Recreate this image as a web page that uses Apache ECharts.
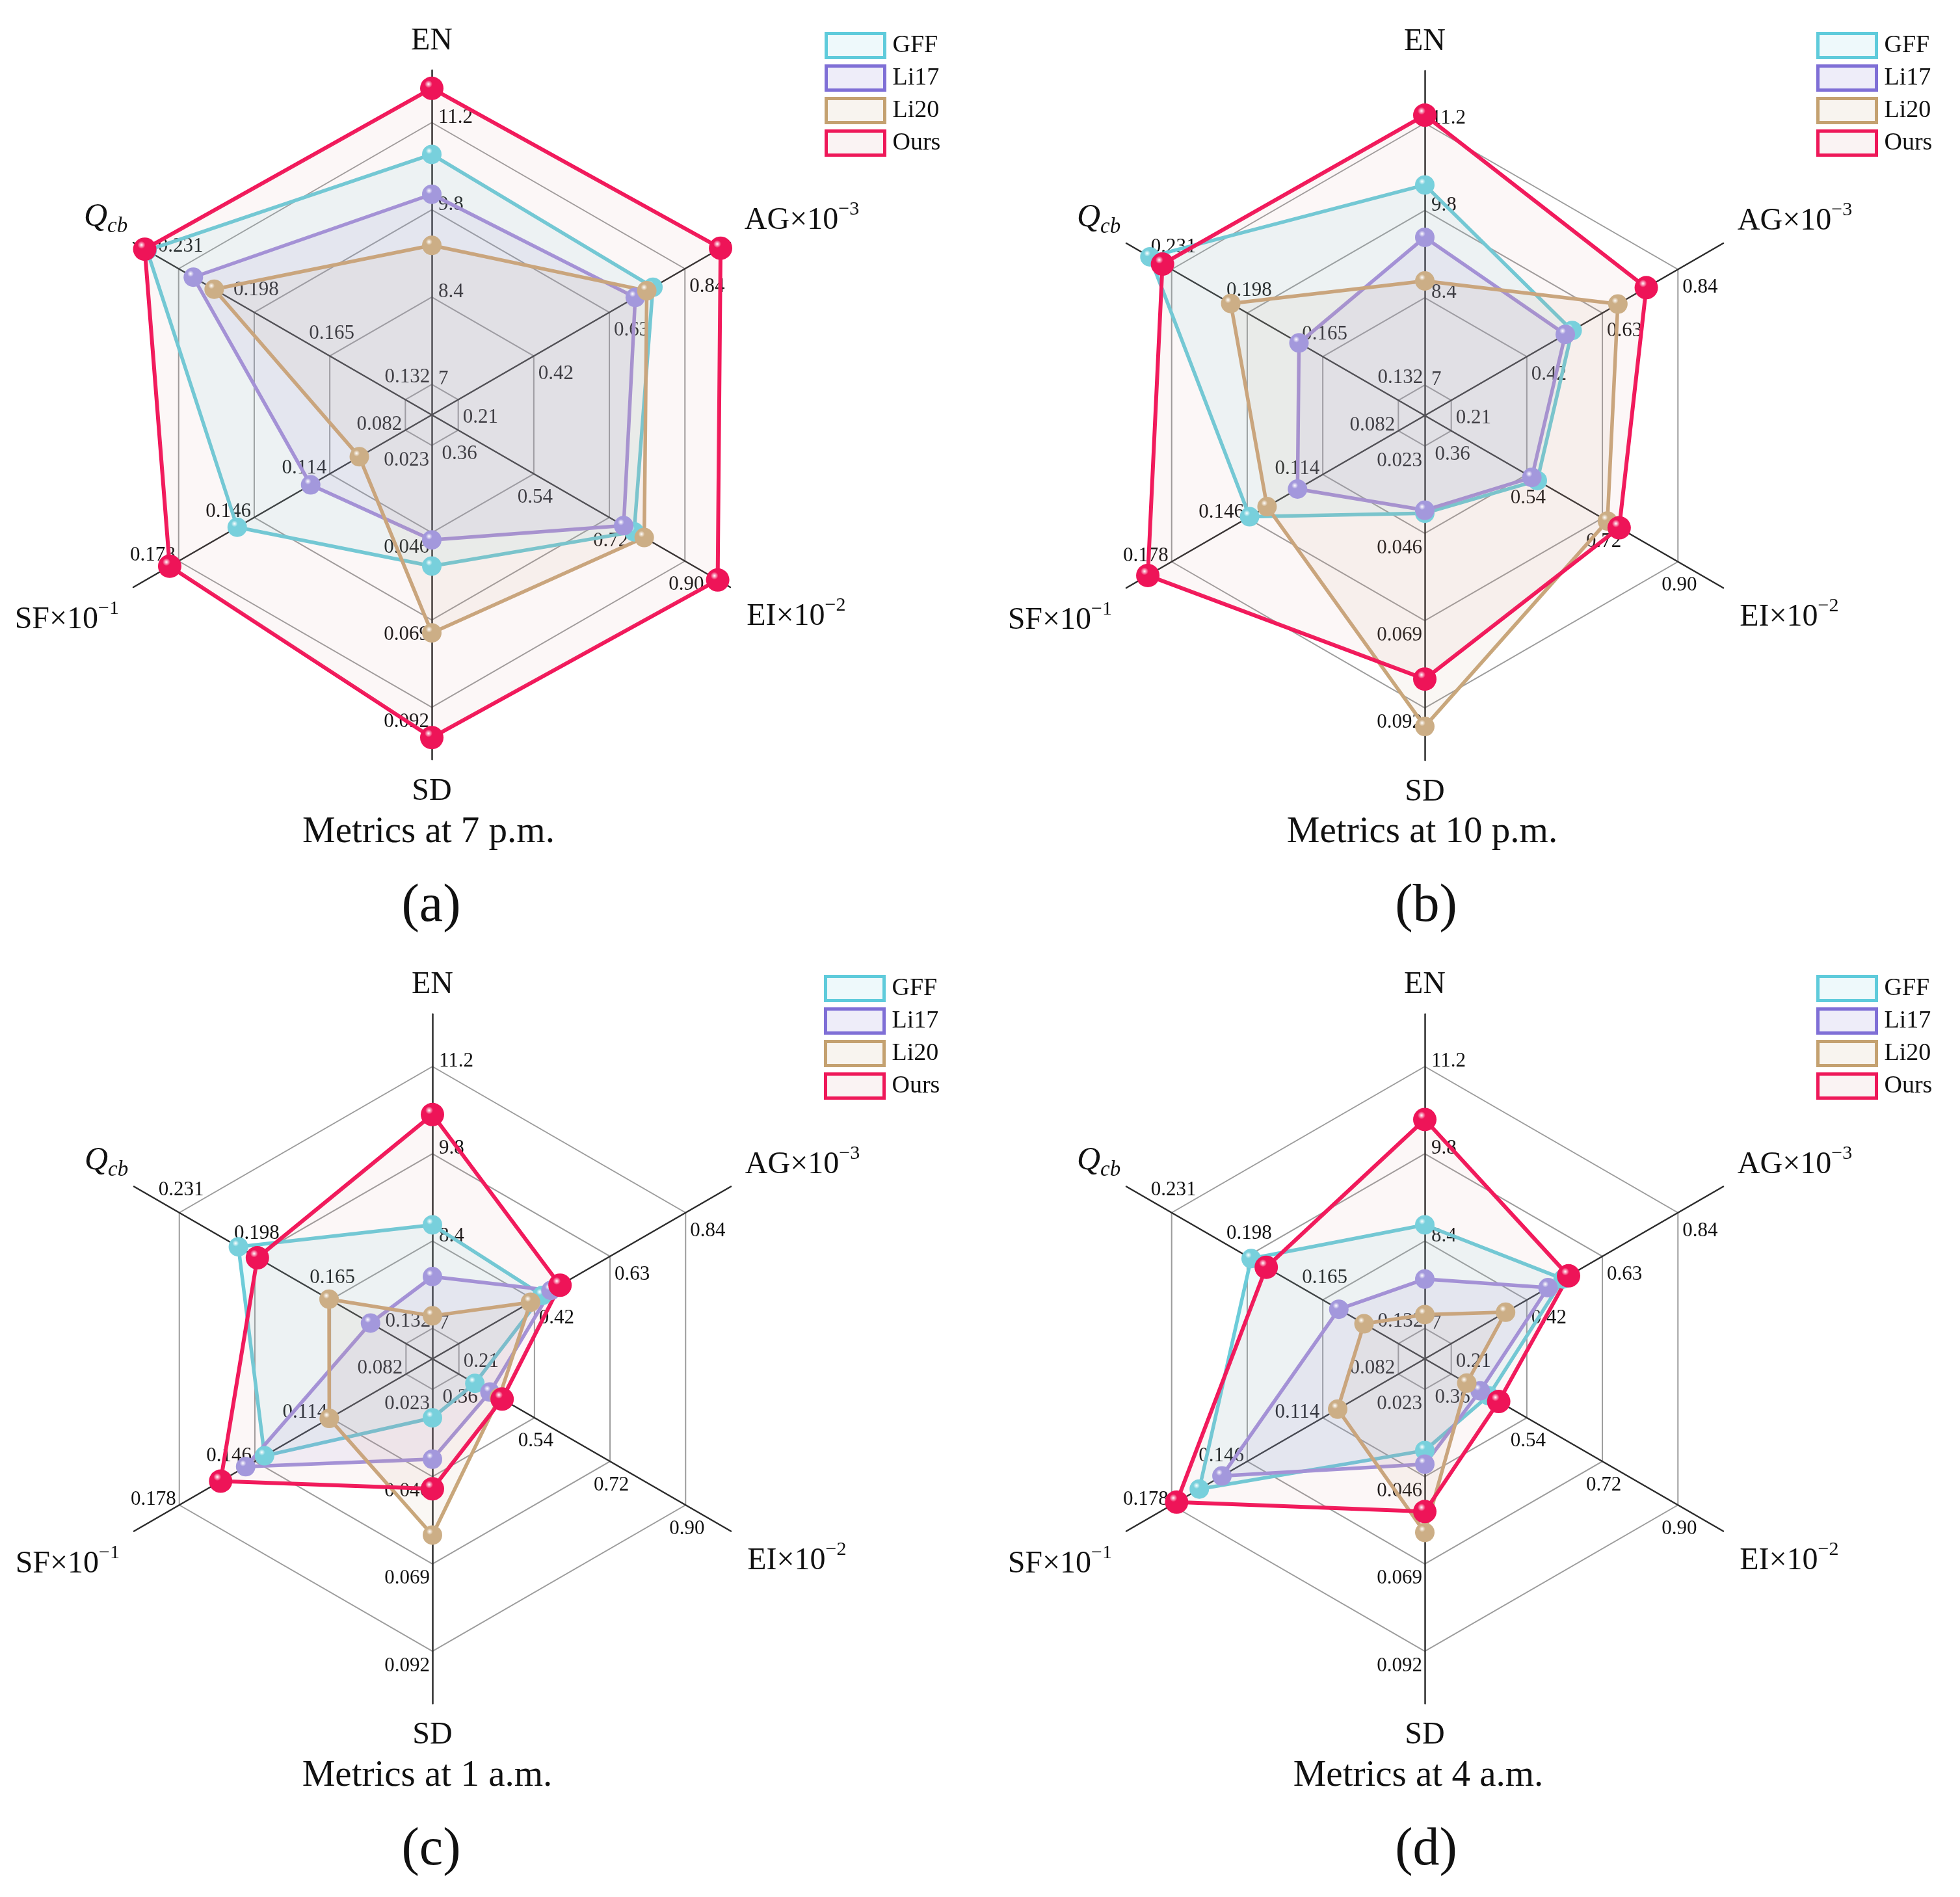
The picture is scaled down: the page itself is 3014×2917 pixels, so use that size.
<!DOCTYPE html>
<html><head><meta charset="utf-8">
<script src="https://cdn.jsdelivr.net/npm/echarts@6/dist/echarts.min.js"></script>
<style>html,body{margin:0;padding:0;background:#fff}#c{width:3014px;height:2917px}</style>
</head><body><div id="c"></div>
<script>
// ---------- data ----------
const seriesNames = ['GFF', 'Li17', 'Li20', 'Ours'];
// metric order of the value arrays below
const metricKeys = ['EN', 'AG', 'EI', 'SD', 'SF', 'Qcb'];
// tick labels on each metric axis (rings 1..4)
const ticksEN  = ['7', '8.4', '9.8', '11.2'];
const ticksAG  = ['0.21', '0.42', '0.63', '0.84'];
const ticksEI  = ['0.36', '0.54', '0.72', '0.90'];
const ticksSD  = ['0.023', '0.046', '0.069', '0.092'];
const ticksSF  = ['0.082', '0.114', '0.146', '0.178'];
const ticksQcb = ['0.132', '0.165', '0.198', '0.231'];

// (a) Metrics at 7 p.m.          EN     AG     EI     SD      SF      Qcb
const a_GFF  = [10.69, 0.751, 0.779, 0.0548, 0.1532, 0.2448];
const a_Li17 = [10.05, 0.702, 0.754, 0.0479, 0.1221, 0.2246];
const a_Li20 = [9.23,  0.734, 0.803, 0.0724, 0.1015, 0.2155];
const a_Ours = [11.75, 0.939, 0.978, 0.1000, 0.1818, 0.2458];
// (b) Metrics at 10 p.m.
const b_GFF  = [10.21, 0.546, 0.565, 0.0407, 0.1450, 0.2405];
const b_Li17 = [9.37,  0.527, 0.552, 0.0399, 0.1247, 0.1754];
const b_Li20 = [8.67,  0.673, 0.732, 0.0969, 0.1376, 0.2052];
const b_Ours = [11.33, 0.752, 0.760, 0.0844, 0.1881, 0.2350];
// (c) Metrics at 1 a.m.
const c_GFF  = [8.66,  0.442, 0.398, 0.0305, 0.1419, 0.2052];
const c_Li17 = [7.83,  0.466, 0.434, 0.0414, 0.1499, 0.1475];
const c_Li20 = [7.20,  0.409, 0.456, 0.0614, 0.1145, 0.1656];
const c_Ours = [10.43, 0.491, 0.463, 0.0492, 0.1605, 0.1969];
// (d) Metrics at 4 a.m.
const d_GFF  = [8.66,  0.521, 0.449, 0.0391, 0.1663, 0.1963];
const d_Li17 = [7.79,  0.479, 0.429, 0.0427, 0.1567, 0.1580];
const d_Li20 = [7.22,  0.361, 0.397, 0.0607, 0.1077, 0.1470];
const d_Ours = [10.35, 0.536, 0.473, 0.0552, 0.1759, 0.1897];

const panelTitles = ['Metrics at 7 p.m.', 'Metrics at 10 p.m.', 'Metrics at 1 a.m.', 'Metrics at 4 a.m.'];
const panelLetters = ['(a)', '(b)', '(c)', '(d)'];

// ---------- style / layout ----------
const FONT = '"Liberation Serif","Times New Roman",Times,serif';
const RING_SUB = 20, FIRST_RING = 7, TOTAL_UNITS = 79;
const RADIUS = 530;
const centers = [[664, 638], [2191, 639], [665, 2089.5], [2191, 2089.5]];
const titlePos = [[659, 1280], [2187, 1280], [657, 2731], [2181, 2731]];
const letterPos = [[663, 1394], [2193, 1394], [663, 2845], [2193, 2845]];
const legendPos = [[1268, 49], [2793, 49], [1267, 1499], [2793, 1499]];

const lineColors = ['#6CCCD9', '#A193DC', '#C9A77B', '#F2165A'];
const markColors = ['#78D0DC', '#A398DC', '#CCAE86', '#EE1458'];
const areaColors = ['rgba(108,205,218,0.15)', 'rgba(140,125,215,0.14)', 'rgba(201,167,122,0.12)', 'rgba(220,150,150,0.11)'];
const legendBorder = ['#5FCBDB', '#7F6FD6', '#C4A170', '#EE1859'];
const legendFill = ['#EEF9FB', '#EEEDF9', '#F8F4EF', '#FAF3F3'];

const axisDefs = {
  EN:  {ticks: ticksEN,  name: 'EN', gap: 45, namePad: [0,0,0,0],
        label: {margin: -10, align: 'left', verticalAlign: 'bottom', lineHeight: 16, padding: [0,0,0,0]}},
  AG:  {ticks: ticksAG,  name: '{b|AG×10}{sup|−3}', gap: 127, namePad: [52,0,0,0],
        label: {margin: -14, align: 'left', verticalAlign: 'top', padding: [0,0,0,0]}},
  EI:  {ticks: ticksEI,  name: '{b|EI×10}{sup|−2}', gap: 117, namePad: [0,0,34,0],
        label: {margin: -24, align: 'center', verticalAlign: 'top', padding: [0,0,0,28]}},
  SD:  {ticks: ticksSD,  name: 'SD', gap: 49, namePad: [0,0,0,0],
        label: {margin: -4, align: 'right', verticalAlign: 'top', padding: [7,0,0,0]}},
  SF:  {ticks: ticksSF,  name: '{b|SF×10}{sup|−1}', gap: 118, namePad: [0,0,25,0],
        label: {margin: -10, align: 'right', verticalAlign: 'middle', padding: [0,0,0,0]}},
  Qcb: {ticks: ticksQcb, name: '{q|Q}{sub|cb}', gap: 49, namePad: [0,0,24,0],
        label: {margin: -22, align: 'center', verticalAlign: 'bottom', padding: [0,16,0,0]}}
};
// counter-clockwise from the top
const indicatorOrder = ['EN', 'Qcb', 'SF', 'SD', 'EI', 'AG'];

function buildIndicator(key) {
  const d = axisDefs[key];
  const t = d.ticks.map(Number);
  const unit = (t[1] - t[0]) / RING_SUB;
  const min = +(t[0] - FIRST_RING * unit).toFixed(9);
  const max = +(min + TOTAL_UNITS * unit).toFixed(9);
  return {
    name: d.name, min: min, max: max, nameGap: d.gap,
    nameTextStyle: {align: 'center', verticalAlign: 'middle', padding: d.namePad},
    axisLabel: Object.assign({
      show: true,
      formatter: function (v) {
        for (let k = 0; k < t.length; k++) {
          if (Math.abs(v - t[k]) < unit * 0.3) return d.ticks[k];
        }
        return '';
      }
    }, d.label)
  };
}
const indicators = indicatorOrder.map(buildIndicator);

const ringColors = [];
for (let i = 0; i <= TOTAL_UNITS; i++) {
  ringColors.push((i - FIRST_RING) % RING_SUB === 0 && i >= FIRST_RING ? '#9c9c9c' : 'rgba(0,0,0,0)');
}

function reorder(arr) {
  return indicatorOrder.map(k => arr[metricKeys.indexOf(k)]);
}
function sphere(c) {
  return {type: 'radial', x: 0.36, y: 0.32, r: 0.75,
    colorStops: [{offset: 0, color: '#ffffff'}, {offset: 0.22, color: c}, {offset: 1, color: c}]};
}

const panels = [
  [a_GFF, a_Li17, a_Li20, a_Ours],
  [b_GFF, b_Li17, b_Li20, b_Ours],
  [c_GFF, c_Li17, c_Li20, c_Ours],
  [d_GFF, d_Li17, d_Li20, d_Ours]
];

const radars = centers.map(c => ({
  center: c, radius: RADIUS, startAngle: 90, splitNumber: TOTAL_UNITS, shape: 'polygon',
  axisName: {
    color: '#111', fontFamily: FONT, fontSize: 48,
    rich: {
      b:   {fontFamily: FONT, fontSize: 48, color: '#111', lineHeight: 56, verticalAlign: 'bottom'},
      sup: {fontFamily: FONT, fontSize: 30, color: '#111', lineHeight: 30, verticalAlign: 'top'},
      q:   {fontFamily: FONT, fontSize: 50, fontStyle: 'italic', color: '#111', lineHeight: 56, verticalAlign: 'top'},
      sub: {fontFamily: FONT, fontSize: 33, fontStyle: 'italic', color: '#111', lineHeight: 30, verticalAlign: 'bottom'}
    }
  },
  axisLine: {lineStyle: {color: '#2b2b2b', width: 2.5}},
  axisTick: {show: false},
  axisLabel: {show: true, color: '#111', fontFamily: FONT, fontSize: 31},
  splitLine: {lineStyle: {color: ringColors, width: 2}},
  splitArea: {show: false},
  indicator: indicators
}));

const series = panels.map((p, pi) => ({
  type: 'radar', radarIndex: pi, symbol: 'circle', silent: true,
  data: p.map((vals, i) => ({
    name: seriesNames[i],
    value: reorder(vals),
    symbolSize: i === 3 ? 36 : 30,
    itemStyle: {color: sphere(markColors[i]), borderWidth: 0},
    lineStyle: {color: lineColors[i], width: i === 3 ? 6 : 5.5},
    areaStyle: {color: areaColors[i]}
  }))
}));

const titles = [];
panelTitles.forEach((t, i) => {
  titles.push({text: t, left: titlePos[i][0], top: titlePos[i][1], padding: 0,
    textAlign: 'center', textVerticalAlign: 'middle',
    textStyle: {fontFamily: FONT, fontSize: 57, fontWeight: 'normal', color: '#111'}});
  titles.push({text: panelLetters[i], left: letterPos[i][0], top: letterPos[i][1], padding: 0,
    textAlign: 'center', textVerticalAlign: 'middle',
    textStyle: {fontFamily: FONT, fontSize: 82, fontWeight: 'normal', color: '#111'}});
});

const legends = legendPos.map(p => ({
  left: p[0], top: p[1], orient: 'vertical', padding: 0, itemGap: 8,
  itemWidth: 90, itemHeight: 37, icon: 'rect', selectedMode: false,
  textStyle: {fontFamily: FONT, fontSize: 38, color: '#111', padding: [0, 0, 0, 7]},
  data: seriesNames.map((n, i) => ({
    name: n,
    itemStyle: {color: legendFill[i], borderColor: legendBorder[i], borderWidth: 5}
  }))
}));

const chart = echarts.init(document.getElementById('c'), null, {renderer: 'canvas', width: 3014, height: 2917});
chart.setOption({
  backgroundColor: '#ffffff',
  animation: false,
  title: titles,
  legend: legends,
  radar: radars,
  series: series
});
</script>
</body></html>
